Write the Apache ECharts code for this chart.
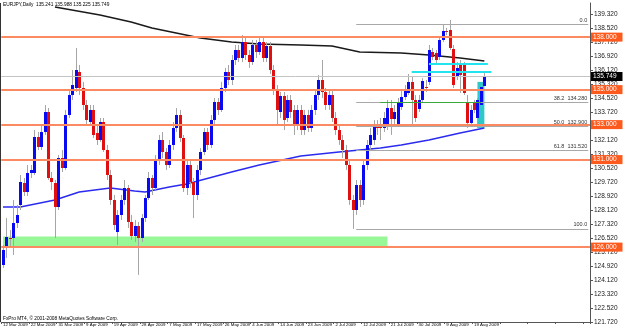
<!DOCTYPE html>
<html>
<head>
<meta charset="utf-8">
<script src="https://cdn.jsdelivr.net/npm/echarts@6/dist/echarts.min.js"></script>
<style>
html, body { margin: 0; padding: 0; background: #fff; }
#chart { width: 625px; height: 330px; }
</style>
</head>
<body>
<div id="chart"></div>
<script>
var tickLabels = ['12 Mar 2009', '22 Mar 2009', '31 Mar 2009', '9 Apr 2009', '19 Apr 2009', '28 Apr 2009',
    '7 May 2009', '17 May 2009', '26 May 2009', '4 Jun 2009', '14 Jun 2009', '23 Jun 2009',
    '2 Jul 2009', '12 Jul 2009', '21 Jul 2009', '30 Jul 2009', '9 Aug 2009', '19 Aug 2009'];
var barsPerTick = 8;
var slots = 170;

var opens = [124.98,125.95,126.52,126.52,127.38,128.41,129.66,129.15,130.24,130.24,
    132.29,131.72,132.58,133.72,129.95,129.66,128.29,131.09,130.52,133.55,
    134.69,135.09,136.01,135.09,134.12,133.15,133.84,132.52,132.12,133.15,
    131.55,130.12,128.69,126.86,127.84,128.69,129.38,127.44,126.64,127.21,
    126.52,127.66,128.81,129.95,129.38,130.98,132.12,131.44,130.69,131.84,
    132.81,133.55,132.24,129.38,130.69,129.72,128.98,130.41,131.44,132.58,
    131.84,133.26,134.29,133.84,135.09,136.01,135.55,136.69,137.26,136.81,
    137.72,136.98,136.58,137.55,137.15,137.72,136.81,137.49,136.12,134.98,
    133.72,134.64,133.38,134.41,133.84,132.98,133.84,132.69,133.55,132.81,
    133.84,134.69,135.55,134.86,134.12,134.69,133.38,132.69,132.12,131.55,
    130.69,128.69,128.12,129.55,128.69,130.69,131.84,132.12,132.86,132.92,
    132.81,132.86,133.95,133.32,132.98,134.01,134.58,134.81,135.44,134.41,
    133.89,134.41,135.15,135.44,137.15,137.09,136.86,137.84,138.35,138.41,
    137.32,135.72,136.41,136.41,134.29,133.09,134.24,133.38,134.12,135.241];
var closes = [125.84,126.58,126.49,127.38,127.84,129.72,129.15,130.24,130.41,132.29,
    131.72,132.58,133.72,129.95,129.72,128.29,131.09,130.52,133.55,134.69,
    135.26,136.12,135.09,134.12,133.26,133.84,132.41,132.12,133.15,131.55,
    130.12,128.69,127.26,127.84,128.69,129.38,127.44,126.64,127.21,126.52,
    127.66,128.81,129.95,129.38,130.98,132.12,131.44,130.69,131.84,132.81,
    133.55,132.24,129.38,130.69,129.72,128.98,130.41,131.44,132.58,131.84,
    133.26,134.29,133.84,135.09,136.01,135.55,136.69,137.26,136.81,137.72,
    136.98,136.58,137.55,137.15,137.72,136.81,137.49,136.12,134.98,133.84,
    134.64,133.26,134.41,133.72,132.98,133.84,132.69,133.55,132.81,133.84,
    134.69,135.55,134.86,134.12,134.69,133.38,132.69,132.12,131.55,130.69,
    128.69,128.12,129.55,128.69,130.69,131.84,132.41,132.86,132.84,132.81,
    133.38,133.95,133.32,133.72,134.24,134.58,134.98,135.44,134.41,133.38,
    134.41,135.49,135.12,137.26,136.86,136.69,137.84,138.35,138.32,137.38,
    135.26,136.24,135.84,134.81,133.09,133.84,133.84,134.41,135.15,135.749];
var lows = [124.81,125.38,125.95,125.55,127.09,128.12,128.92,128.92,129.95,130.12,
    131.55,131.55,132.41,129.84,129.26,126.52,128.12,130.29,130.41,133.38,
    134.41,134.86,134.69,133.84,132.98,132.92,132.24,131.84,132.01,131.44,
    129.84,128.41,126.98,126.12,127.55,128.41,127.09,126.41,126.29,124.41,
    126.29,127.44,128.69,128.98,129.26,130.69,131.09,130.41,130.52,131.55,
    132.58,132.01,129.15,128.98,129.38,127.66,128.69,130.12,131.26,131.55,
    131.66,132.98,133.55,133.72,134.86,135.26,135.26,136.41,136.58,136.58,
    136.69,136.24,136.41,136.81,136.98,136.58,136.58,135.89,134.69,132.98,
    133.38,132.69,133.15,133.38,132.41,132.69,132.41,132.41,132.58,132.58,
    133.55,134.41,134.52,133.84,133.84,133.15,132.41,131.84,131.09,130.41,
    128.41,127.04,127.84,128.29,128.41,130.41,131.55,131.84,132.41,132.12,
    132.58,132.69,132.41,132.98,132.92,133.84,134.41,134.69,132.86,133.15,
    133.72,134.29,134.86,135.26,136.69,136.52,136.69,137.72,138.12,137.26,
    135.09,135.55,134.81,134.69,132.81,132.92,133.66,132.81,133.99,135.225];
var highs = [126.12,127.66,126.98,128.69,128.41,130.12,129.95,130.69,130.69,132.69,
    132.58,132.98,134.12,133.95,130.29,129.84,131.26,131.55,133.84,134.98,
    136.12,137.38,136.41,135.44,134.41,134.12,134.12,132.98,133.38,133.38,
    131.84,130.41,128.98,128.12,128.98,129.84,129.55,127.84,127.55,127.44,
    127.89,128.98,130.29,130.12,131.26,132.41,132.58,131.66,132.12,133.15,
    133.95,133.84,132.41,130.98,130.98,129.95,130.69,131.66,132.81,132.81,
    133.55,134.52,134.52,135.44,136.24,136.41,136.98,137.55,137.55,138.12,
    137.95,137.26,137.84,137.84,137.95,137.95,137.72,137.72,136.41,135.26,
    134.86,134.86,134.69,134.69,134.12,134.12,134.12,133.84,133.84,134.12,
    134.98,135.84,136.69,135.09,134.98,134.98,133.72,132.98,132.41,131.84,
    130.98,128.98,129.84,129.84,130.98,132.12,132.81,133.26,133.26,133.38,
    133.72,134.41,134.41,134.12,134.52,134.98,135.26,135.89,135.72,134.69,
    134.69,135.66,135.55,137.55,137.38,137.26,138.01,138.69,138.52,138.98,
    137.55,136.58,136.69,136.58,134.69,134.12,134.41,134.52,135.26,135.988];

// moving averages, read at sampled bars [bar, price]
var maFast = [[0,128.29],[5,128.29],[15,128.69],[22,129.15],[31,129.38],[38,129.21],[41,129.15],
    [48,129.44],[53,129.61],[66,130.29],[74,130.69],[86,131.21],[97,131.44],[103,131.55],
    [109,131.66],[115,131.84],[123,132.12],[132,132.52],[139,132.81]];
var maSlow = [[15,139.72],[28,139.26],[37,138.86],[43,138.52],[50,138.24],[57,137.95],[66,137.72],
    [74,137.61],[86,137.55],[95,137.49],[103,137.15],[115,137.09],[123,136.98],[132,136.81],[139,136.64]];

var levels = [138.00, 135.00, 133.00, 131.00, 126.00];
var fibNames = ['0.0', '38.2', '50.0', '61.8', '100.0'];
var fibPrices = [138.75, 134.28, 132.90, 131.52, 127.04];
var fibStart = 102;
var supportZone = [126.00, 126.60];
var cyanLines = [[123, 140, 136.46], [118, 141, 136.00]];
var cyanBox = [137, 139, 135.44, 132.81];
var lastPrice = 135.749;

var smallFont = 'Liberation Sans';

var categories = [];
for (var i = 0; i < slots; i++) {
    categories.push(i % barsPerTick === 0 && tickLabels[i / barsPerTick] ? tickLabels[i / barsPerTick] : '');
}

var candleData = opens.map(function (o, i) {
    return [i, o, closes[i], lows[i], highs[i]];
});

function renderCandle(params, api) {
    var i = api.value(0);
    var o = api.value(1), c = api.value(2), l = api.value(3), h = api.value(4);
    var pO = api.coord([i, o]), pC = api.coord([i, c]);
    var pL = api.coord([i, l]), pH = api.coord([i, h]);
    var x = Math.round(pO[0]);
    var top = Math.min(pO[1], pC[1]);
    var bot = Math.max(pO[1], pC[1]);
    return {
        type: 'group',
        children: [
            { type: 'line', shape: { x1: x + 0.5, y1: pH[1], x2: x + 0.5, y2: pL[1] },
              style: { stroke: '#a6a6a6', lineWidth: 1 } },
            { type: 'rect', shape: { x: x - 1, y: Math.round(top), width: 3, height: Math.max(Math.round(bot - top), 1) },
              style: { fill: c >= o ? '#0a0af0' : '#e01010' } }
        ]
    };
}

var lineMarks = [];
levels.forEach(function (v) {
    lineMarks.push({
        yAxis: v,
        lineStyle: { color: '#fb8a62', width: 2, type: 'solid' },
        label: { show: true, position: 'end', distance: 1, formatter: v.toFixed(3),
                 backgroundColor: '#ff5a1e', color: '#fff', fontSize: 6.5, fontFamily: smallFont,
                 padding: [1, 6, 1, 2] }
    });
});
lineMarks.push({
    yAxis: lastPrice,
    lineStyle: { color: '#c4c4c4', width: 1, type: 'solid' },
    label: { show: true, position: 'end', distance: 1, formatter: lastPrice.toFixed(3),
             backgroundColor: '#000', color: '#fff', fontSize: 6.5, fontFamily: smallFont,
             padding: [1, 6, 1, 2] }
});
fibPrices.forEach(function (v, k) {
    lineMarks.push([
        { coord: [fibStart, v], lineStyle: { color: '#a8a8a8', width: 1, type: 'solid' },
          label: { show: true, position: 'insideEndTop', distance: 1, fontSize: 5.5, color: '#333',
                   fontFamily: smallFont,
                   formatter: k === 0 || k === 4 ? fibNames[k] : fibNames[k] + '  ' + v.toFixed(3) } },
        { coord: [slots - 1, v] }
    ]);
});
lineMarks.push([
    { coord: [109, fibPrices[1]], lineStyle: { color: '#3aa83a', width: 1, type: 'solid' }, label: { show: false } },
    { coord: [138, fibPrices[1]] }
]);
cyanLines.forEach(function (c) {
    lineMarks.push([
        { coord: [c[0], c[2]], lineStyle: { color: '#22e4ee', width: 2, type: 'solid' }, label: { show: false } },
        { coord: [c[1], c[2]] }
    ]);
});

var option = {
    animation: false,
    backgroundColor: '#fff',
    grid: { left: 0, right: 35, top: 3, bottom: 8, containLabel: false },
    xAxis: {
        type: 'category',
        data: categories,
        boundaryGap: true,
        axisLine: { lineStyle: { color: '#555' } },
        axisTick: { show: true, length: 2, interval: function (i) { return i % barsPerTick === 0; },
                    lineStyle: { color: '#555' } },
        axisLabel: { interval: 0, align: 'left', fontSize: 4.4, color: '#000', margin: 1,
                     fontFamily: smallFont },
        splitLine: { show: false }
    },
    yAxis: {
        type: 'value',
        position: 'right',
        min: 121.72,
        max: 139.95,
        interval: 0.8,
        scale: true,
        axisLine: { show: true, lineStyle: { color: '#555' } },
        axisTick: { show: true, length: 3, lineStyle: { color: '#555' } },
        axisLabel: { fontSize: 6.5, color: '#222', margin: 4, showMaxLabel: false,
                     fontFamily: smallFont,
                     formatter: function (v) { return v.toFixed(3); } },
        splitLine: { show: false }
    },
    graphic: [
        { type: 'rect', left: 0, top: 3, shape: { width: 1, height: 319 }, style: { fill: '#333' }, silent: true },
        { type: 'text', left: 3, top: 2, style: { text: 'EURJPY,Daily  135.241 135.988 135.225 135.749',
          fill: '#000', font: '4.8px Liberation Sans' } },
        { type: 'text', left: 3, top: 316, style: { text: 'FxPro MT4, \u00a9 2001-2008 MetaQuotes Software Corp.',
          fill: '#000', font: '4.8px Liberation Sans' } }
    ],
    series: [
        {
            type: 'line',
            data: maFast,
            showSymbol: false,
            z: 3,
            lineStyle: { color: '#2b2bf0', width: 1.5 },
            markArea: {
                silent: true,
                data: [
                    [{ xAxis: 0, yAxis: supportZone[1], itemStyle: { color: '#98f898' } },
                     { xAxis: 111, yAxis: supportZone[0] }],
                    [{ xAxis: cyanBox[0], yAxis: cyanBox[2], itemStyle: { color: '#2ec8c8' } },
                     { xAxis: cyanBox[1], yAxis: cyanBox[3] }]
                ]
            },
            markLine: { silent: true, symbol: 'none', animation: false, data: lineMarks }
        },
        {
            type: 'line',
            data: maSlow,
            showSymbol: false,
            z: 3,
            lineStyle: { color: '#1a1a1a', width: 1.5 }
        },
        {
            type: 'custom',
            renderItem: renderCandle,
            data: candleData,
            encode: { x: 0, y: [1, 2, 3, 4] },
            z: 4
        }
    ]
};

var myChart = echarts.init(document.getElementById('chart'));
myChart.setOption(option);
</script>
</body>
</html>
